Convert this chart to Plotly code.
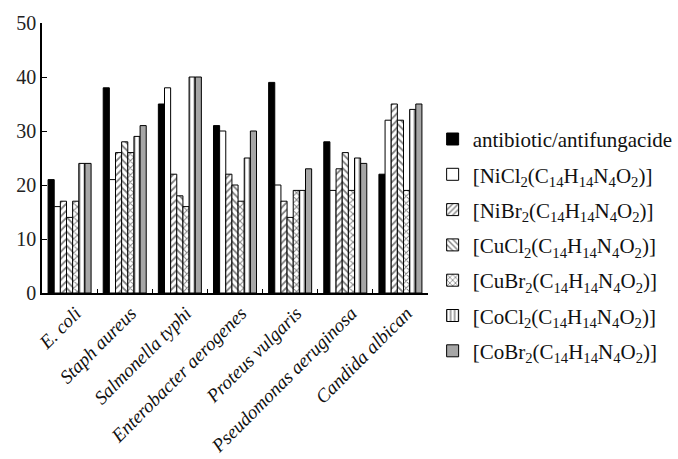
import plotly.graph_objects as go

categories = ["E. coli", "Staph aureus", "Salmonella typhi", "Enterobacter aerogenes",
              "Proteus vulgaris", "Pseudomonas aeruginosa", "Candida albican"]

antibiotic = [21, 38, 35, 31, 39, 28, 22]
nicl2 = [16, 21, 38, 30, 20, 19, 32]
nibr2 = [17, 26, 22, 22, 17, 23, 35]
cucl2 = [14, 28, 18, 20, 14, 26, 32]
cubr2 = [17, 26, 16, 17, 19, 19, 19]
cocl2 = [24, 29, 40, 25, 19, 25, 34]
cobr2 = [24, 31, 40, 30, 23, 24, 35]

lig = "(C<sub>14</sub>H<sub>14</sub>N<sub>4</sub>O<sub>2</sub>)]"
names = ["antibiotic/antifungacide",
         "[NiCl<sub>2</sub>" + lig,
         "[NiBr<sub>2</sub>" + lig,
         "[CuCl<sub>2</sub>" + lig,
         "[CuBr<sub>2</sub>" + lig,
         "[CoCl<sub>2</sub>" + lig,
         "[CoBr<sub>2</sub>" + lig]
series = [antibiotic, nicl2, nibr2, cucl2, cubr2, cocl2, cobr2]
fills = ["black", "white", "white", "white", "white", "white", "#a6a6a6"]
patterns = ["", "", "/", "\\", "x", "|", ""]

fig = go.Figure()
for i, (nm, vals) in enumerate(zip(names, series)):
    fig.add_trace(go.Bar(
        x=categories, y=vals, name=nm, legendgroup=f"g{i}",
        marker=dict(color=fills[i], line=dict(color="black", width=1),
                    pattern=dict(shape=patterns[i], fgcolor="black", bgcolor=fills[i],
                                 size=5, solidity=0.35)),
    ))

serif = "Liberation Serif, Times New Roman, serif"
fig.update_layout(
    width=678, height=459,
    margin=dict(l=42, r=250, t=23, b=166, autoexpand=False),
    paper_bgcolor="white", plot_bgcolor="white",
    barmode="group", bargap=0.22, bargroupgap=0,
    font=dict(family=serif, color="#222", size=18),
    showlegend=True,
    legend=dict(x=1.012, xanchor="left", xref="paper", y=0.645, yanchor="top",
                font=dict(family=serif, size=21, color="#111"),
                tracegroupgap=5, itemwidth=30, bgcolor="rgba(0,0,0,0)",
                maxheight=440),
    xaxis=dict(showline=True, linecolor="black", linewidth=1.5, automargin=False,
               ticks="inside", ticklen=4, tickcolor="black", tickson="boundaries",
               tickangle=-45, ticklabelshift=6, ticklabelstandoff=0,
               tickfont=dict(family=serif, size=19, style="italic", color="#111"),
               showgrid=False, zeroline=False),
    yaxis=dict(range=[0, 50], dtick=10, showline=True, linecolor="black", linewidth=1.5,
               automargin=False,
               ticks="inside", ticklen=5, tickcolor="black",
               tickfont=dict(family=serif, size=20, color="#222"),
               showgrid=False, zeroline=False),
)

fig.write_html("out.html")
